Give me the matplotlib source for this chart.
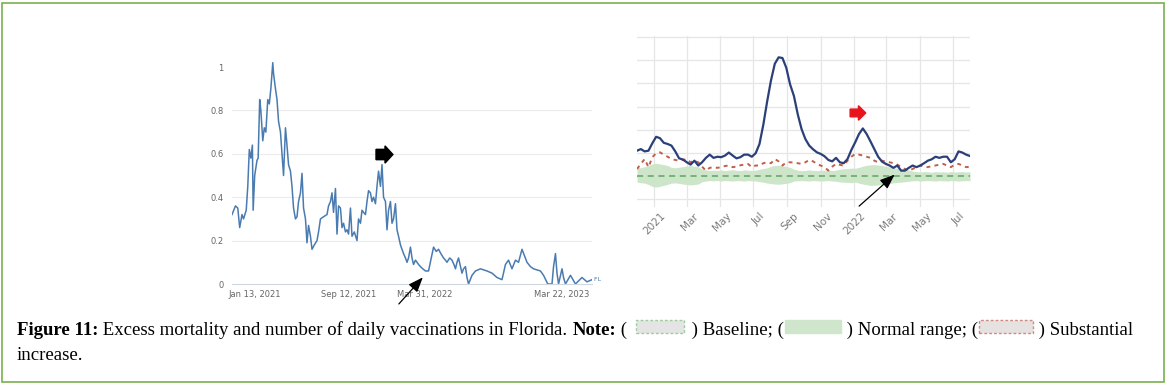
import matplotlib
matplotlib.use("Agg")
import matplotlib.pyplot as plt
import matplotlib.transforms as mtransforms
from matplotlib.patches import Rectangle, FancyArrow
import numpy as np
import pandas as pd

W, H = 1168, 385

# --- left panel: daily vaccinations (normalised) ---
vax_start = pd.Timestamp("2020-11-14")
vax_days = [0, 9, 15, 20, 26, 30, 37, 41, 45, 49, 53, 55, 59, 65, 68, 72, 75, 80, 84, 88,
            93, 97, 101, 106, 108, 113, 117, 121, 126, 130, 134, 139, 142, 147, 152, 156,
            160, 165, 169, 173, 178, 182, 186, 191, 195, 199, 204, 208, 214, 221, 225, 230,
            238, 247, 251, 256, 260, 264, 269, 273, 277, 282, 286, 290, 295, 299, 303, 308,
            312, 318, 325, 329, 334, 338, 342, 347, 351, 355, 360, 364, 368, 373, 377, 381,
            386, 390, 394, 399, 403, 407, 412, 416, 420, 425, 429, 433, 438, 442, 446, 451,
            455, 459, 464, 468, 472, 477, 481, 485, 490, 496, 503, 511, 517, 524, 531, 537,
            543, 550, 555, 559, 566, 572, 577, 581, 585, 589, 594, 598, 602, 607, 611, 615,
            624, 633, 646, 663, 676, 689, 702, 711, 719, 728, 737, 745, 754, 767, 776, 784,
            802, 810, 821, 832, 836, 841, 845, 849, 858, 862, 867, 880, 893, 910, 923, 936]
vax_vals = [0.32, 0.36, 0.35, 0.26, 0.32, 0.30, 0.34, 0.45, 0.62, 0.58, 0.64, 0.34, 0.50, 0.57,
            0.58, 0.85, 0.80, 0.66, 0.72, 0.70, 0.85, 0.83, 0.90, 1.02, 0.97, 0.90, 0.85, 0.75,
            0.70, 0.60, 0.50, 0.72, 0.66, 0.55, 0.52, 0.45, 0.35, 0.30, 0.31, 0.38, 0.42, 0.51,
            0.35, 0.30, 0.19, 0.27, 0.22, 0.16, 0.18, 0.20, 0.24, 0.30, 0.31, 0.32, 0.36, 0.38,
            0.42, 0.33, 0.44, 0.23, 0.36, 0.35, 0.26, 0.28, 0.24, 0.25, 0.23, 0.35, 0.22, 0.24,
            0.20, 0.30, 0.28, 0.34, 0.33, 0.32, 0.38, 0.43, 0.42, 0.38, 0.40, 0.37, 0.45, 0.52,
            0.45, 0.55, 0.40, 0.38, 0.25, 0.34, 0.38, 0.28, 0.30, 0.37, 0.25, 0.22, 0.18, 0.16,
            0.14, 0.12, 0.10, 0.12, 0.17, 0.12, 0.09, 0.11, 0.10, 0.09, 0.08, 0.07, 0.06, 0.06,
            0.11, 0.17, 0.15, 0.16, 0.14, 0.12, 0.11, 0.10, 0.12, 0.11, 0.09, 0.07, 0.10, 0.12,
            0.08, 0.05, 0.07, 0.08, 0.03, 0.00, 0.04, 0.06, 0.07, 0.06, 0.05, 0.03, 0.02, 0.09,
            0.11, 0.07, 0.11, 0.10, 0.16, 0.10, 0.08, 0.07, 0.06, 0.04, 0.00, 0.00, 0.08, 0.14,
            0.05, 0.00, 0.07, 0.03, 0.00, 0.04, 0.00, 0.03, 0.01, 0.02]
vax_ticks = ["2021-01-13", "2021-09-12", "2022-03-31", "2023-03-22"]
vax_ticklabels = ["Jan 13, 2021", "Sep 12, 2021", "Mar 31, 2022", "Mar 22, 2023"]
vax_yticks = [0, 0.2, 0.4, 0.6, 0.8, 1]
vax_yticklabels = ["0", "0.2", "0.4", "0.6", "0.8", "1"]

# --- right panel: weekly deaths, excess mortality ---
mort_start = pd.Timestamp("2020-11-30")
observed = [5100, 5170, 5070, 5100, 5420, 5700, 5640, 5440, 5390, 5320, 5070, 4770, 4720, 4600,
            4500, 4670, 4460, 4600, 4790, 4930, 4790, 4840, 4820, 4890, 5020, 4890, 4770, 4820,
            4930, 4930, 4840, 4990, 5390, 6220, 7220, 8130, 8850, 9130, 9100, 8680, 7960, 7460,
            6670, 6030, 5600, 5320, 5160, 5030, 4960, 4860, 4700, 4640, 4790, 4600, 4560, 4740,
            5130, 5460, 5820, 6060, 5820, 5500, 5170, 4840, 4630, 4530, 4460, 4360, 4460, 4240,
            4240, 4360, 4460, 4390, 4460, 4560, 4670, 4730, 4840, 4790, 4840, 4840, 4600, 4730,
            5070, 5020, 4930, 4870]
threshold = [4310, 4530, 4740, 4390, 4820, 4990, 5030, 4930, 4840, 4740, 4700, 4670, 4700, 4740,
             4600, 4670, 4600, 4410, 4240, 4360, 4390, 4360, 4390, 4440, 4460, 4390, 4410, 4470,
             4500, 4530, 4390, 4460, 4460, 4560, 4600, 4560, 4740, 4640, 4460, 4600, 4600, 4590,
             4560, 4530, 4600, 4700, 4640, 4530, 4460, 4390, 4240, 4410, 4530, 4490, 4460, 4670,
             4840, 4960, 4930, 4890, 4840, 4790, 4670, 4600, 4670, 4630, 4600, 4560, 4500, 4390,
             4310, 4240, 4310, 4390, 4460, 4410, 4390, 4440, 4460, 4500, 4530, 4460, 4390, 4500,
             4530, 4460, 4390, 4410]
range_hi = [4390, 4360, 4410, 4460, 4530, 4560, 4530, 4500, 4460, 4380, 4360, 4390, 4410, 4440,
            4460, 4430, 4410, 4300, 4270, 4240, 4260, 4240, 4270, 4240, 4260, 4280, 4250, 4240,
            4270, 4260, 4240, 4260, 4300, 4330, 4360, 4430, 4460, 4470, 4450, 4420, 4380, 4300,
            4260, 4240, 4250, 4270, 4250, 4240, 4260, 4250, 4270, 4240, 4260, 4300, 4320, 4330,
            4350, 4340, 4380, 4430, 4470, 4490, 4500, 4480, 4460, 4420, 4400, 4360, 4340, 4320,
            4300, 4270, 4220, 4200, 4180, 4200, 4190, 4170, 4200, 4180, 4190, 4170, 4200, 4180,
            4190, 4200, 4180, 4190]
range_lo = [3740, 3720, 3700, 3640, 3560, 3530, 3560, 3600, 3650, 3700, 3710, 3690, 3660, 3640,
            3620, 3640, 3660, 3760, 3790, 3810, 3800, 3810, 3790, 3810, 3800, 3790, 3810, 3800,
            3790, 3810, 3800, 3790, 3760, 3740, 3700, 3680, 3660, 3650, 3670, 3690, 3720, 3790,
            3800, 3810, 3800, 3790, 3810, 3800, 3790, 3800, 3810, 3790, 3780, 3750, 3740, 3730,
            3720, 3740, 3700, 3660, 3630, 3600, 3610, 3620, 3640, 3650, 3680, 3710, 3730, 3740,
            3760, 3780, 3800, 3810, 3790, 3800, 3810, 3800, 3790, 3810, 3800, 3790, 3810, 3800,
            3790, 3800, 3810, 3800]
baseline = 4000
mort_ticks = ["2021-01-01", "2021-03-01", "2021-05-01", "2021-07-01", "2021-09-01", "2021-11-01",
              "2022-01-01", "2022-03-01", "2022-05-01", "2022-07-01"]
mort_ticklabels = ["2021", "Mar", "May", "Jul", "Sep", "Nov", "2022", "Mar", "May", "Jul"]

fig = plt.figure(figsize=(W / 100, H / 100), dpi=100)


def px_box(x0, y0, x1, y1):
    # pixel box (top-left origin) -> figure fraction rect
    return [x0 / W, 1 - y1 / H, (x1 - x0) / W, (y1 - y0) / H]


# ---------------- left chart ----------------
axl = fig.add_axes(px_box(232, 54, 592, 284))
vx = vax_start + pd.to_timedelta(vax_days, unit="D")
axl.plot(vx, vax_vals, color="#4a7bb0", lw=1.1)
axl.set_xlim(vx[0], vx[-1])
axl.set_ylim(0, 1.06)
axl.set_yticks(vax_yticks)
axl.set_yticklabels(vax_yticklabels)
axl.set_xticks(pd.to_datetime(vax_ticks))
axl.set_xticklabels(vax_ticklabels)
for s in ["top", "right", "left"]:
    axl.spines[s].set_visible(False)
axl.spines["bottom"].set_color("#cfd8e0")
axl.tick_params(length=0, labelsize=6, labelcolor="#666666", pad=6)
axl.tick_params(axis="x", pad=4)
for v in vax_yticks[1:-1]:
    axl.axhline(v, color="#ececec", lw=0.8, zorder=0)
axl.text(vx[-1], vax_vals[-1], " FL", color="#4a7bb0", fontsize=4.5, va="center")

# black block arrow
axl.add_patch(FancyArrow(0.40, 0.563, 0.025, 0, width=0.045, head_width=0.075, head_length=0.022,
                         transform=axl.transAxes, color="black", clip_on=False))
# thin arrow pointing at Mar 2022 low
axl.annotate("", xy=(pd.Timestamp("2022-03-30"), 0.04), xycoords="data",
             xytext=(397 / W, 1 - 306 / H), textcoords="figure fraction",
             arrowprops=dict(arrowstyle="-|>,head_length=0.9,head_width=0.35", color="black",
                             lw=0.9), annotation_clip=False)

# ---------------- right chart ----------------
axr = fig.add_axes(px_box(637, 36, 970, 207))
mx = mort_start + pd.to_timedelta(np.arange(len(observed)) * 7, unit="D")
axr.fill_between(mx, range_lo, range_hi, color="#cde6c9", lw=0, zorder=1)
axr.axhline(baseline, color="#5fa463", lw=1.1, ls=(0, (4, 3)), zorder=2)
axr.plot(mx, threshold, color="#c0604a", lw=1.4, ls=(0, (2, 2.2)), zorder=3)
axr.plot(mx, observed, color="#2b3f7a", lw=1.6, zorder=4)
axr.set_xlim(mx[0], mx[-1])
axr.set_ylim(2670, 10050)
axr.set_yticks(np.arange(3000, 10001, 1000))
axr.set_yticklabels([])
axr.set_xticks(pd.to_datetime(mort_ticks))
axr.set_xticklabels(mort_ticklabels)
axr.grid(True, color="#e6e6e6", lw=0.9)
axr.set_axisbelow(True)
for s in axr.spines.values():
    s.set_visible(False)
axr.tick_params(length=0, labelsize=7.5, labelcolor="#7a7a7a", pad=3)
offset = mtransforms.ScaledTranslation(6 / 100, 0, fig.dpi_scale_trans)
for lab in axr.get_xticklabels():
    lab.set_rotation(45)
    lab.set_ha("right")
    lab.set_va("top")
    lab.set_rotation_mode("anchor")
    lab.set_transform(lab.get_transform() + offset)

# red block arrow
axr.add_patch(FancyArrow(0.64, 0.55, 0.025, 0, width=0.045, head_width=0.085, head_length=0.022,
                         transform=axr.transAxes, color="#e8141b", clip_on=False))
axr.annotate("", xy=(pd.Timestamp("2022-03-20"), 4150), xycoords="data",
             xytext=(857 / W, 1 - 208 / H), textcoords="figure fraction",
             arrowprops=dict(arrowstyle="-|>,head_length=0.9,head_width=0.35", color="black",
                             lw=0.9), annotation_clip=False)

# ---------------- caption ----------------
fig.canvas.draw()
rend = fig.canvas.get_renderer()
cap_fs = 13.5
serif = "Liberation Serif"


def put(x, y, s, bold=False):
    t = fig.text(x / W, 1 - y / H, s, fontsize=cap_fs, family=serif,
                 fontweight="bold" if bold else "normal", va="baseline", ha="left")
    bb = t.get_window_extent(rend)
    return bb.x1


def box(x, y, w, face, edge, ls):
    r = Rectangle((x / W, 1 - (y + 13) / H), w / W, 13 / H, transform=fig.transFigure,
                  facecolor=face, edgecolor=edge, lw=1.0, ls=ls)
    fig.patches.append(r)
    return x + w


yb = 335
x = 17
x = put(x, yb, "Figure 11:", bold=True)
x = put(x, yb, " Excess mortality and number of daily vaccinations in Florida. ")
x = put(x, yb, "Note:", bold=True)
x = put(x, yb, " (")
x = box(x + 9, 320, 48, "#e4e4e4", "#9fcc9f", (0, (2, 1.5)))
x = put(x + 3, yb, " ) Baseline; (")
x = box(x + 1, 320, 56, "#cfe6cc", "#cfe6cc", "-")
x = put(x + 1, yb, " ) Normal range; (")
x = box(x + 1, 320, 54, "#e6e2e2", "#d08a80", (0, (2, 1.5)))
x = put(x + 1, yb, " ) Substantial")
put(17, 360, "increase.")

# outer green frame
fig.patches.append(Rectangle((2 / W, 3 / H), 1162 / W, 379 / H, transform=fig.transFigure,
                             fill=False, edgecolor="#7ab04f", lw=1.2))

fig.savefig("out.png", dpi=100)
